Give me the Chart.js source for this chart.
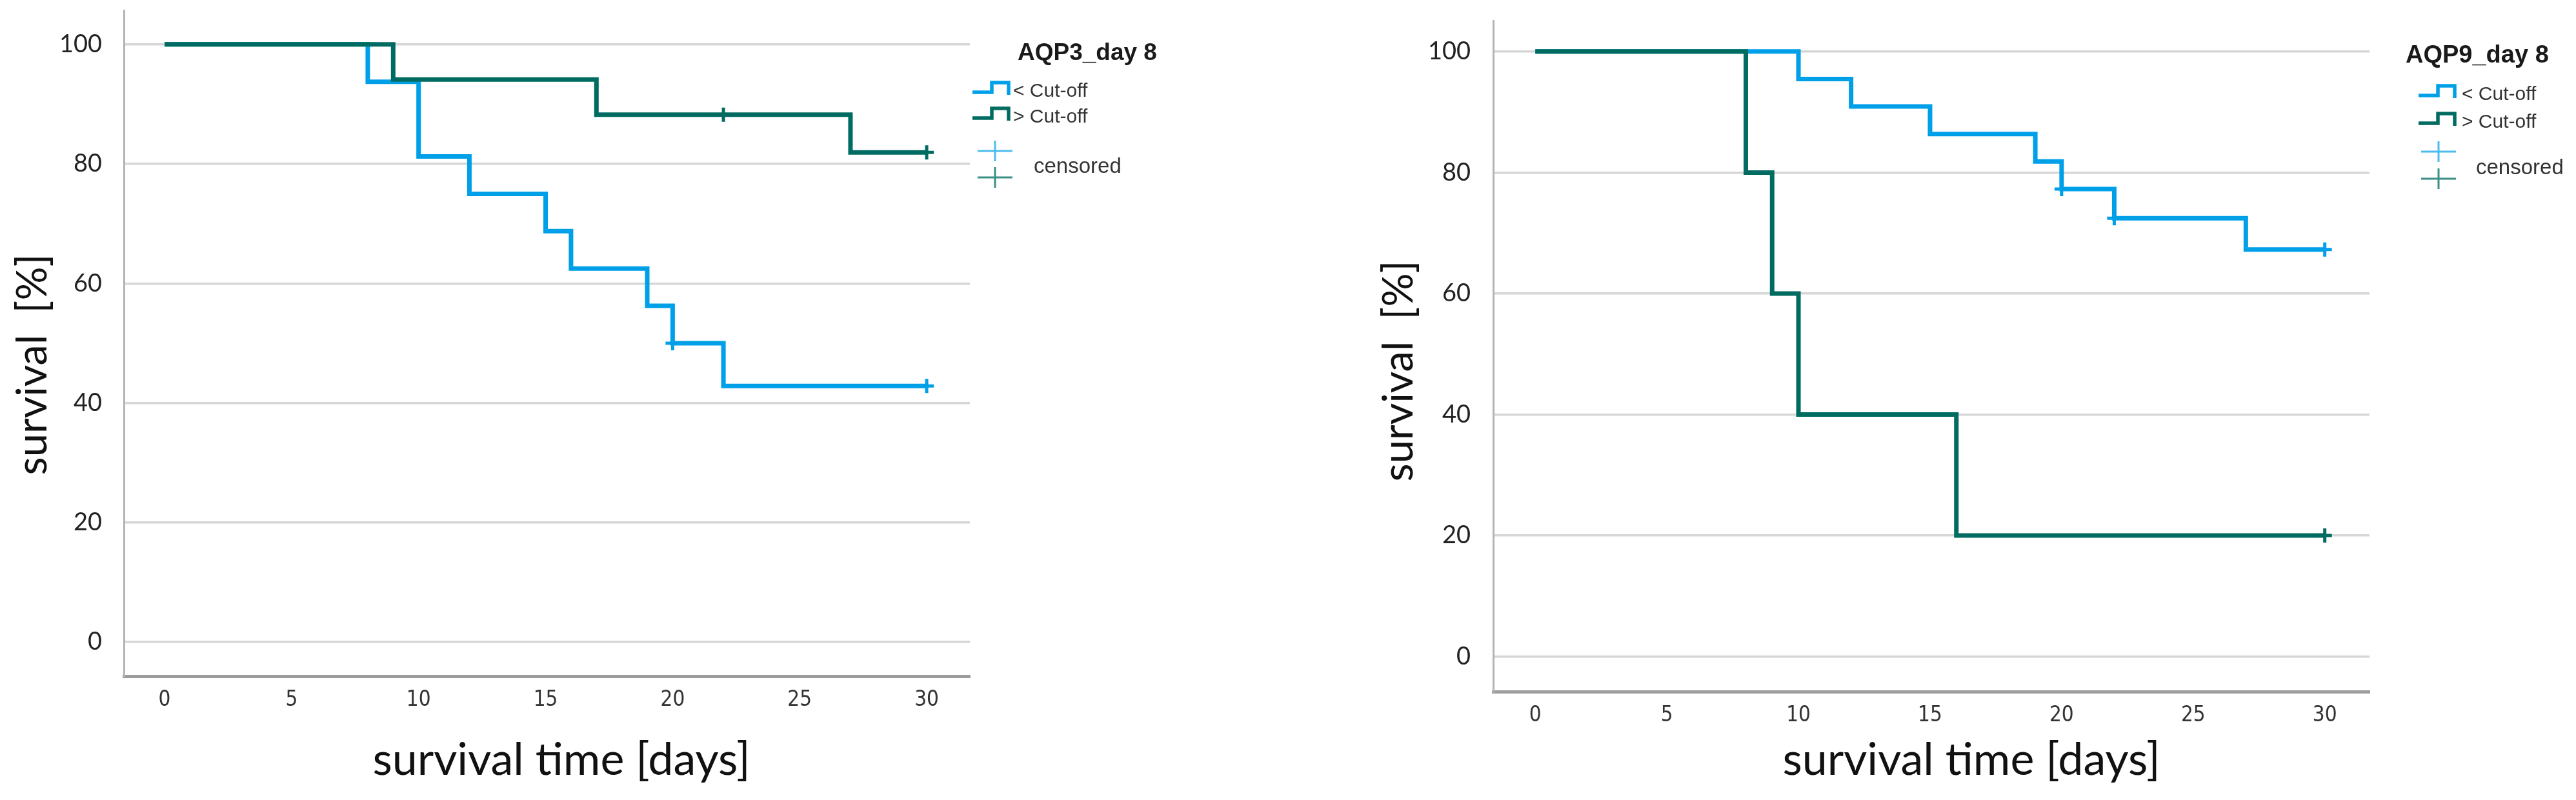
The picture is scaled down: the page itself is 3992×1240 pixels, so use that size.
<!DOCTYPE html>
<html>
<head>
<meta charset="utf-8">
<title>Survival AQP3 / AQP9 day 8</title>
<script src="https://cdn.jsdelivr.net/npm/chart.js@4.4.1/dist/chart.umd.min.js"></script>
<style>
  html, body { margin: 0; padding: 0; background: #fff; }
  #wrap { position: relative; width: 3992px; height: 1240px; }
  canvas { position: absolute; top: 0; }
  #aqp3 { left: 0; }
  #aqp9 { left: 2000px; }
</style>
</head>
<body>
<div id="wrap">
  <canvas id="aqp3" width="2000" height="1240"></canvas>
  <canvas id="aqp9" width="1992" height="1240"></canvas>
</div>
<script>
// axis ticks
var dayTicks = [0, 5, 10, 15, 20, 25, 30];
var survivalTicks = [0, 20, 40, 60, 80, 100];
var groupLabels = ['< Cut-off', '> Cut-off'];

// AQP3_day 8  (survival after each event, %)
var aqp3LowDays = [0, 8, 10, 12, 15, 16, 19, 20, 22, 30];
var aqp3LowSurvival = [100, 93.75, 81.25, 75, 68.75, 62.5, 56.25, 50, 42.86, 42.86];
var aqp3LowCensDays = [20, 30];
var aqp3LowCensSurvival = [50, 42.86];
var aqp3HighDays = [0, 9, 17, 27, 30];
var aqp3HighSurvival = [100, 94.12, 88.24, 81.93, 81.93];
var aqp3HighCensDays = [22, 30];
var aqp3HighCensSurvival = [88.24, 81.93];

// AQP9_day 8
var aqp9LowDays = [0, 10, 12, 15, 19, 20, 22, 27, 30];
var aqp9LowSurvival = [100, 95.45, 90.91, 86.36, 81.82, 77.27, 72.44, 67.27, 67.27];
var aqp9LowCensDays = [20, 22, 30];
var aqp9LowCensSurvival = [77.27, 72.44, 67.27];
var aqp9HighDays = [0, 8, 9, 10, 16, 30];
var aqp9HighSurvival = [100, 80, 60, 40, 20, 20];
var aqp9HighCensDays = [30];
var aqp9HighCensSurvival = [20];

var lowColor = '#00a0e9';
var highColor = '#006b60';
var lowCrossColor = '#4cbcf0';
var highCrossColor = '#3a8f86';

function points(days, surv) {
  var out = [];
  for (var i = 0; i < days.length; i++) out.push({x: days[i], y: surv[i]});
  return out;
}

// legend, axis titles drawn like the SPSS output
var spssDecor = {
  id: 'spssDecor',
  afterDraw: function(chart, args, o) {
    var ctx = chart.ctx;
    ctx.save();
    ctx.fillStyle = '#111';
    ctx.textAlign = 'center';
    ctx.textBaseline = 'middle';
    ctx.font = '65px Lato';
    ctx.save();
    ctx.translate(o.yTitleX, o.yTitleY);
    ctx.rotate(-Math.PI / 2);
    ctx.fillText('survival  [%]', 0, 0);
    ctx.restore();
    ctx.font = '70px Lato';
    ctx.fillText('survival time [days]', o.xTitleX, o.xTitleY);

    var g = o.legend;
    ctx.textAlign = 'left';
    ctx.textBaseline = 'alphabetic';
    ctx.fillStyle = '#1a1a1a';
    ctx.font = 'bold ' + g.titleSize + 'px "Liberation Sans", Arial, sans-serif';
    ctx.fillText(o.title, g.titleX, g.titleY);

    var colors = [lowColor, highColor];
    ctx.font = '30px "Liberation Sans", Arial, sans-serif';
    ctx.lineWidth = 5.5;
    ctx.lineJoin = 'miter';
    ctx.lineCap = 'butt';
    for (var i = 0; i < 2; i++) {
      var b = g.rowY[i];
      var x0 = g.iconX;
      ctx.strokeStyle = colors[i];
      ctx.beginPath();
      ctx.moveTo(x0, b - 7);
      ctx.lineTo(x0 + 30, b - 7);
      ctx.lineTo(x0 + 30, b - 22);
      ctx.lineTo(x0 + 56, b - 22);
      ctx.lineTo(x0 + 56, b - 3);
      ctx.stroke();
      ctx.fillStyle = '#333';
      ctx.fillText(groupLabels[i], g.textX, b);
    }
    var crossColors = [lowCrossColor, highCrossColor];
    ctx.lineWidth = 3;
    for (var j = 0; j < 2; j++) {
      var cy = g.crossY[j];
      ctx.strokeStyle = crossColors[j];
      ctx.beginPath();
      ctx.moveTo(g.crossX - 27, cy);
      ctx.lineTo(g.crossX + 27, cy);
      ctx.moveTo(g.crossX, cy - 16);
      ctx.lineTo(g.crossX, cy + 16);
      ctx.stroke();
    }
    ctx.fillStyle = '#333';
    ctx.font = '33px "Liberation Sans", Arial, sans-serif';
    ctx.fillText('censored', g.censoredX, g.censoredY);
    ctx.restore();
  }
};

function buildChart(id, f, title, low, high) {
  var canvas = document.getElementById(id);
  var W = canvas.width, H = canvas.height;
  return new Chart(canvas, {
    type: 'line',
    data: {
      datasets: [
        {label: groupLabels[1] + ' censored', data: high.cens, showLine: false, order: -2,
         pointStyle: 'cross', pointRadius: 11, pointBorderWidth: 5, borderColor: highColor, backgroundColor: highColor},
        {label: groupLabels[0] + ' censored', data: low.cens, showLine: false, order: -1,
         pointStyle: 'cross', pointRadius: 11, pointBorderWidth: 5, borderColor: lowColor, backgroundColor: lowColor},
        {label: groupLabels[1], data: high.line, stepped: 'before', order: 0,
         borderColor: highColor, borderWidth: 7, pointRadius: 0, borderJoinStyle: 'miter', fill: false},
        {label: groupLabels[0], data: low.line, stepped: 'before', order: 1,
         borderColor: lowColor, borderWidth: 7, pointRadius: 0, borderJoinStyle: 'miter', fill: false}
      ]
    },
    options: {
      responsive: false,
      animation: false,
      events: [],
      layout: {padding: {left: 0, top: f.top, right: W - f.right, bottom: 0}},
      plugins: {
        legend: {display: false},
        tooltip: {enabled: false},
        spssDecor: {title: title, yTitleX: f.yTitleX, yTitleY: f.yTitleY,
                    xTitleX: f.xTitleX, xTitleY: f.xTitleY, legend: f.legend}
      },
      scales: {
        x: {
          type: 'linear', min: -1.6, max: 31.7,
          afterBuildTicks: function(s) { s.ticks = dayTicks.map(function(v) { return {value: v}; }); },
          afterFit: function(s) { s.height = H - f.bottom; s.paddingLeft = 0; s.paddingRight = 0; },
          grid: {display: false},
          border: {display: true, color: '#9c9c9c', width: 5},
          ticks: {
            font: {family: '"Liberation Sans Narrow", "DejaVu Sans Condensed", sans-serif', size: 33},
            color: '#333', padding: 10, maxRotation: 0, autoSkip: false
          }
        },
        y: {
          min: f.yMin, max: f.yMax,
          afterBuildTicks: function(s) { s.ticks = survivalTicks.map(function(v) { return {value: v}; }); },
          afterFit: function(s) { s.width = f.left; s.paddingTop = 0; s.paddingBottom = 0; },
          grid: {color: '#d6d6d6', lineWidth: 3.5, drawTicks: false},
          border: {display: true, color: '#b3b3b3', width: 3},
          ticks: {font: {family: 'Lato', size: 38}, color: '#222', padding: f.yTickPad}
        }
      }
    },
    plugins: [spssDecor]
  });
}

buildChart('aqp3', {
  left: 192, right: 1503, top: 16, bottom: 1048, yMin: -5.7, yMax: 105.7, yTickPad: 34,
  yTitleX: 51, yTitleY: 565, xTitleX: 870, xTitleY: 1178,
  legend: {titleX: 1577, titleY: 93, titleSize: 37, iconX: 1507, textX: 1570, rowY: [150, 190],
           crossX: 1542, crossY: [234, 275], censoredX: 1602, censoredY: 268}
}, 'AQP3_day 8',
  {line: points(aqp3LowDays, aqp3LowSurvival), cens: points(aqp3LowCensDays, aqp3LowCensSurvival)},
  {line: points(aqp3HighDays, aqp3HighSurvival), cens: points(aqp3HighCensDays, aqp3HighCensSurvival)});

buildChart('aqp9', {
  left: 314, right: 1672, top: 32, bottom: 1072, yMin: -5.8, yMax: 105.1, yTickPad: 35,
  yTitleX: 168, yTitleY: 575, xTitleX: 1055, xTitleY: 1178,
  legend: {titleX: 1728, titleY: 97, titleSize: 38, iconX: 1748, textX: 1815, rowY: [155, 198],
           crossX: 1779, crossY: [235, 277], censoredX: 1837, censoredY: 270}
}, 'AQP9_day 8',
  {line: points(aqp9LowDays, aqp9LowSurvival), cens: points(aqp9LowCensDays, aqp9LowCensSurvival)},
  {line: points(aqp9HighDays, aqp9HighSurvival), cens: points(aqp9HighCensDays, aqp9HighCensSurvival)});
</script>
</body>
</html>
